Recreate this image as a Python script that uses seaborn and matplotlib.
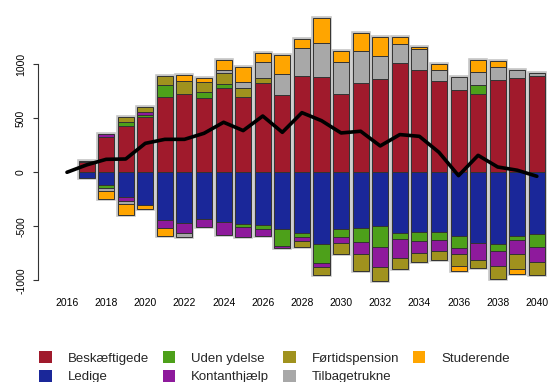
import numpy as np
import matplotlib
matplotlib.use('Agg')
import matplotlib.pyplot as plt
import seaborn as sns
from matplotlib.patches import Patch

# data
years = list(range(2017, 2041))
line_years = list(range(2016, 2041))

beskaeftigede = [95, 324, 426, 509, 694, 725, 685, 784, 694, 830, 713, 892,
                 880, 728, 830, 862, 1015, 950, 846, 759, 725, 858, 876, 895]
ledige = [-55, -120, -230, -300, -438, -466, -430, -463, -481, -490, -528, -565,
          -660, -525, -518, -497, -559, -555, -555, -589, -654, -660, -592, -574]
uden_ydelse = [0, -25, 43, 22, 114, 0, 59, 37, -28, -37, -154, -37,
               -182, -71, -130, -197, -58, -81, -75, -115, 84, -71, -31, -114]
kontanthjaelp = [10, 30, -37, 24, -80, -99, -80, -117, -87, -65, -22, -37,
                 -34, -61, -105, -179, -173, -108, -101, -52, -154, -133, -136, -145]
foertidspension = [0, 0, 46, 47, 84, 121, 89, 96, 87, 40, 0, -49,
                   -71, -99, -160, -130, -108, -89, -84, -114, -78, -124, -139, -121]
tilbagetrukne = [0, -25, -28, 0, 0, -37, 0, 27, 55, 151, 200, 262,
                 314, 290, 296, 218, 176, 189, 98, 124, 117, 114, 71, 25]
studerende = [0, -80, -103, -40, -71, 58, 43, 99, 142, 87, 170, 80,
              232, 105, 167, 170, 59, 20, 59, -43, 114, 62, -40, 0]
netto = [0, 68, 120, 123, 268, 305, 305, 361, 463, 386, 521, 370, 552,
         478, 364, 380, 244, 349, 333, 185, -31, 157, 49, 19, -37]

labels = ['Beskæftigede', 'Ledige', 'Uden ydelse', 'Kontanthjælp',
          'Førtidspension', 'Tilbagetrukne', 'Studerende']
colors = ['#A01A2C', '#1A2799', '#4DA01A', '#8E1A9C', '#A0921E', '#A8A8A8', '#FFA500']
values = [beskaeftigede, ledige, uden_ydelse, kontanthjaelp,
          foertidspension, tilbagetrukne, studerende]

sns.set_style('white')
plt.rcParams['font.family'] = ['Liberation Sans', 'DejaVu Sans']

fig = plt.figure(figsize=(5.48, 3.82), dpi=100)
ax = fig.add_axes([38 / 548, 0.238, 510 / 548, 0.7351])

x = np.array(years)
width = 0.82
pos_bottom = np.zeros(len(years))
neg_bottom = np.zeros(len(years))

for lab, vals, col in zip(labels, values, colors):
    v = np.array(vals, dtype=float)
    pos = np.where(v > 0, v, 0)
    neg = np.where(v < 0, v, 0)
    m = v > 0
    ax.bar(x[m], pos[m], bottom=pos_bottom[m], width=width, color=col,
           edgecolor='#333333', linewidth=0.7, zorder=3)
    pos_bottom += pos
    m = v < 0
    ax.bar(x[m], neg[m], bottom=neg_bottom[m], width=width, color=col,
           edgecolor='#333333', linewidth=0.7, zorder=3)
    neg_bottom += neg

# light halo round each bar
ax.bar(x, pos_bottom - neg_bottom, bottom=neg_bottom, width=width,
       facecolor='none', edgecolor='#c4c4c4', linewidth=2.6, zorder=2)

sns.lineplot(x=line_years, y=netto, color='black', linewidth=2.6, ax=ax, zorder=5)

ax.set_xlim(2014.52, 2040.57)
ax.set_ylim(-1100, 1500)
ax.set_xticks(list(range(2016, 2041, 2)))
ax.set_yticks([-1000, -500, 0, 500, 1000])
ax.set_yticklabels(['-1000', '-500', '0', '500', '1000'], rotation=90, va='center')
ax.tick_params(axis='x', length=0, pad=5, labelsize=7.5, colors='black')
ax.tick_params(axis='y', length=3.6, width=0.8, pad=5, labelsize=7.5,
               direction='out', left=True, colors='#333333', labelcolor='black')
for s in ['top', 'right', 'bottom']:
    ax.spines[s].set_visible(False)
ax.spines['left'].set_bounds(-1000, 1000)
ax.spines['left'].set_color('#333333')
ax.spines['left'].set_linewidth(0.8)
ax.set_xlabel('')
ax.set_ylabel('')
ax.grid(False)

handles = [Patch(facecolor=c, edgecolor='none') for c in colors]
fig.legend(handles, labels, ncol=4, loc='center left', bbox_to_anchor=(0.072, 0.038),
           frameon=False, fontsize=9.5, handlelength=0.95, handleheight=0.95,
           handletextpad=1.2, columnspacing=1.05, labelspacing=0.42,
           borderpad=0, borderaxespad=0)

fig.savefig('out.png', dpi=100)
